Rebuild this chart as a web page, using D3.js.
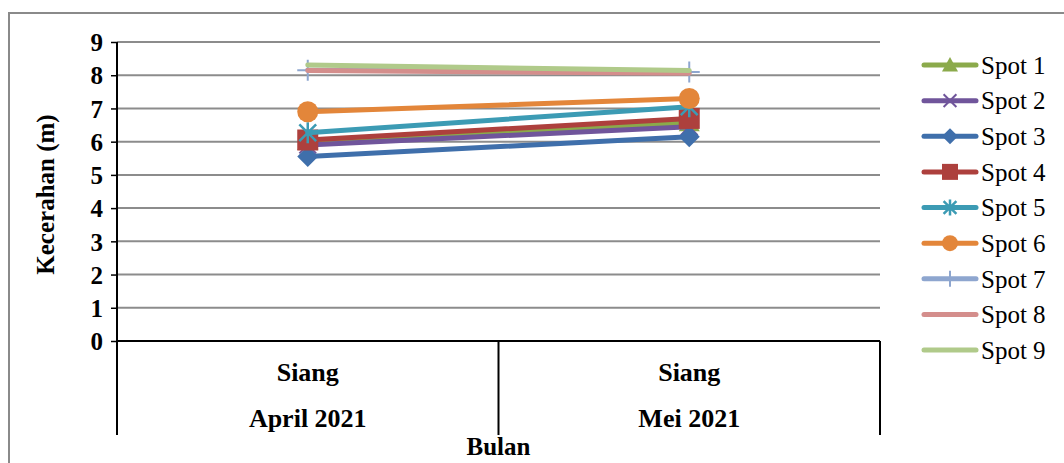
<!DOCTYPE html>
<html><head><meta charset="utf-8">
<script src="https://cdn.jsdelivr.net/npm/d3@7"></script>
<style>body{margin:0;background:#fff}svg text{font-family:"Liberation Serif","Times New Roman","DejaVu Serif",serif !important}</style>
</head><body><svg id="c" width="1064" height="463"></svg>
<script>
const categories = ["April 2021", "Mei 2021"];
const subLabels = ["Siang", "Siang"];
const seriesNames = ["Spot 1","Spot 2","Spot 3","Spot 4","Spot 5","Spot 6","Spot 7","Spot 8","Spot 9"];
const spot1 = [6.0, 6.57];
const spot2 = [5.9, 6.45];
const spot3 = [5.55, 6.15];
const spot4 = [6.05, 6.7];
const spot5 = [6.27, 7.05];
const spot6 = [6.9, 7.3];
const spot7 = [8.15, 8.1];
const spot8 = [8.14, 8.06];
const spot9 = [8.31, 8.14];
const yTicks = [0,1,2,3,4,5,6,7,8,9];
const colors = ["#8BAA4B","#70559B","#3F6FAB","#AD403D","#3C9BB4","#E3863A","#8EA6CF","#D48E8C","#B0CA8A"];
const markers = ["triangle","x","diamond","square","asterisk","circle","plus","none","none"];

const values = [spot1,spot2,spot3,spot4,spot5,spot6,spot7,spot8,spot9];
const svg = d3.select("#c");
const L = 117, R = 880, T = 42, B = 341;
const x = d3.scaleBand().domain(categories).range([L, R]);
const y = d3.scaleLinear().domain([0, 9]).range([B, T]);
const cx = c => x(c) + x.bandwidth() / 2;

svg.append("rect").attr("x", 9).attr("y", 13).attr("width", 1100).attr("height", 500)
  .attr("fill", "none").attr("stroke", "#8a8a8a").attr("stroke-width", 2);

svg.append("g").selectAll("line").data(yTicks.filter(d => d > 0)).join("line")
  .attr("x1", L).attr("x2", R).attr("y1", d => y(d)).attr("y2", d => y(d))
  .attr("stroke", "#8c8c8c").attr("stroke-width", 2);

const yAxis = d3.axisLeft(y).tickValues(yTicks).tickSize(6).tickPadding(8).tickFormat(d3.format("d"));
const gy = svg.append("g").attr("transform", `translate(${L},0)`).call(yAxis);
gy.select(".domain").attr("stroke", "#000").attr("stroke-width", 2).attr("d", `M0,${T}V${B}`);
gy.selectAll(".tick line").attr("stroke", "#000").attr("stroke-width", 1.5);
gy.selectAll(".tick text").attr("font-size", 25).attr("font-weight", "bold")
  .attr("fill", "#000").attr("dy", "0.35em");

svg.append("line").attr("x1", L).attr("x2", R).attr("y1", B).attr("y2", B)
  .attr("stroke", "#000").attr("stroke-width", 2);
const seps = [L, ...categories.map(c => x(c) + x.bandwidth())];
svg.append("g").selectAll("line").data(seps).join("line")
  .attr("x1", d => d).attr("x2", d => d).attr("y1", B).attr("y2", 435)
  .attr("stroke", "#000").attr("stroke-width", 2);
svg.append("line").attr("x1", L).attr("x2", L).attr("y1", T).attr("y2", 435)
  .attr("stroke", "#000").attr("stroke-width", 2);

svg.append("g").selectAll("text").data(categories).join("text")
  .attr("x", d => cx(d)).attr("y", 381).attr("text-anchor", "middle")
  .attr("font-size", 26).attr("font-weight", "bold").text((d, i) => subLabels[i]);
svg.append("g").selectAll("text").data(categories).join("text")
  .attr("x", d => cx(d)).attr("y", 427).attr("text-anchor", "middle")
  .attr("font-size", 26).attr("font-weight", "bold").text(d => d);

svg.append("text").attr("x", (L + R) / 2).attr("y", 455).attr("text-anchor", "middle")
  .attr("font-size", 25).attr("font-weight", "bold").text("Bulan");
svg.append("text").attr("transform", `translate(54,${(T + B) / 2 + 3}) rotate(-90)`)
  .attr("text-anchor", "middle").attr("font-size", 25).attr("font-weight", "bold").text("Kecerahan (m)");

function drawMarker(g, type, px, py, color, s) {
  const h = s / 2;
  if (type === "triangle") g.append("path").attr("d", `M${px},${py-h}L${px+h},${py+h*0.8}L${px-h},${py+h*0.8}Z`).attr("fill", color);
  else if (type === "diamond") g.append("path").attr("d", `M${px},${py-h}L${px+h},${py}L${px},${py+h}L${px-h},${py}Z`).attr("fill", color);
  else if (type === "square") g.append("rect").attr("x", px-h).attr("y", py-h).attr("width", s).attr("height", s).attr("fill", color);
  else if (type === "circle") g.append("circle").attr("cx", px).attr("cy", py).attr("r", h).attr("fill", color);
  else if (type === "x") g.append("path").attr("d", `M${px-h*0.8},${py-h*0.8}L${px+h*0.8},${py+h*0.8}M${px-h*0.8},${py+h*0.8}L${px+h*0.8},${py-h*0.8}`).attr("stroke", color).attr("stroke-width", 2);
  else if (type === "asterisk") g.append("path").attr("d", `M${px-h*0.8},${py-h*0.8}L${px+h*0.8},${py+h*0.8}M${px-h*0.8},${py+h*0.8}L${px+h*0.8},${py-h*0.8}M${px},${py-h}L${px},${py+h}`).attr("stroke", color).attr("stroke-width", 2.5);
  else if (type === "plus") g.append("path").attr("d", `M${px-h},${py}L${px+h},${py}M${px},${py-h}L${px},${py+h}`).attr("stroke", color).attr("stroke-width", 2);
}

const line = d3.line().x((d, i) => cx(categories[i])).y(d => y(d));
values.forEach((vals, si) => {
  const g = svg.append("g");
  g.append("path").attr("d", line(vals)).attr("fill", "none").attr("stroke", colors[si])
    .attr("stroke-width", 5).attr("stroke-linecap", "round");
  vals.forEach((v, i) => drawMarker(g, markers[si], cx(categories[i]), y(v), colors[si], 21));
});

const legY = d3.scaleLinear().domain([0, 8]).range([65, 350]);
seriesNames.forEach((n, i) => {
  const g = svg.append("g");
  const yy = legY(i);
  g.append("line").attr("x1", 924).attr("x2", 976).attr("y1", yy).attr("y2", yy)
    .attr("stroke", colors[i]).attr("stroke-width", 5).attr("stroke-linecap", "round");
  drawMarker(g, markers[i], 950, yy, colors[i], 16);
  g.append("text").attr("x", 981).attr("y", yy).attr("dy", "0.35em").attr("font-size", 25).text(n);
});
</script></body></html>
